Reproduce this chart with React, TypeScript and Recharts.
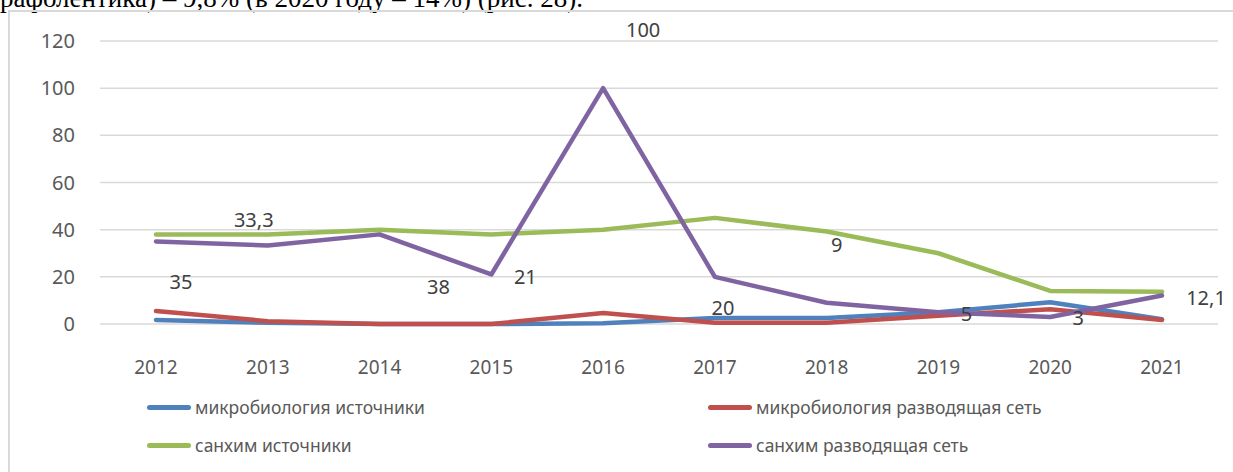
import React from "react";
import {
  LineChart,
  Line,
  XAxis,
  YAxis,
  CartesianGrid,
  Legend,
  LabelList,
} from "recharts";

const years = ["2012", "2013", "2014", "2015", "2016", "2017", "2018", "2019", "2020", "2021"];
const microSources = [1.7, 0.5, 0, 0, 0.3, 2.5, 2.5, 5, 9.2, 2];
const microNetwork = [5.5, 1.2, 0, 0, 4.7, 0.5, 0.5, 3.5, 6.3, 1.7];
const chemSources = [38, 38, 40, 38, 40, 45, 39.2, 30, 14, 13.7];
const chemNetwork = [35, 33.3, 38, 21, 100, 20, 9, 5, 3, 12.1];
const yTicks = [0, 20, 40, 60, 80, 100, 120];

const series = [
  { key: "microSources", name: "микробиология источники", color: "#4f81bd" },
  { key: "microNetwork", name: "микробиология разводящая сеть", color: "#c0504d" },
  { key: "chemSources", name: "санхим источники", color: "#9bbb59" },
  { key: "chemNetwork", name: "санхим разводящая сеть", color: "#8064a2" },
];

// hand-placed label offsets (dx, dy) from each point of the purple line
const labelShift: [number, number][] = [
  [25, 40],
  [-14, -26],
  [59, 52],
  [34, 2],
  [40, -59],
  [8, 31],
  [10, -58],
  [28, 1],
  [28, 1],
  [44, 2],
];

const data = years.map((year, i) => ({
  year,
  microSources: microSources[i],
  microNetwork: microNetwork[i],
  chemSources: chemSources[i],
  chemNetwork: chemNetwork[i],
}));

const FONT = "'Noto Sans', sans-serif";

const PointLabel = (props: any) => {
  const { x, y, value, index } = props;
  const [dx, dy] = labelShift[index] || [0, 0];
  return (
    <text
      x={x + dx}
      y={y + dy}
      textAnchor="middle"
      dominantBaseline="central"
      fill="#404040"
      fontSize={20}
      fontFamily={FONT}
    >
      {String(value).replace(".", ",")}
    </text>
  );
};

const LegendBox = () => {
  const cols = [147, 708];
  const rows = [22, 60];
  return (
    <div style={{ position: "relative", width: 1233, height: 80 }}>
      {series.map((s, i) => (
        <div
          key={s.key}
          style={{
            position: "absolute",
            left: cols[i % 2],
            top: rows[Math.floor(i / 2)] - 14,
            height: 28,
            display: "flex",
            alignItems: "center",
            whiteSpace: "nowrap",
          }}
        >
          <span
            style={{
              display: "inline-block",
              width: 44,
              height: 5,
              borderRadius: 3,
              background: s.color,
              marginRight: 4,
            }}
          />
          <span style={{ fontFamily: FONT, fontSize: 17.5, color: "#595959" }}>{s.name}</span>
        </div>
      ))}
    </div>
  );
};

export default function App() {
  return (
    <div style={{ position: "absolute", left: 0, top: 0, width: 1233, height: 472, overflow: "hidden", background: "#fff" }}>
      <div
        style={{
          position: "absolute",
          left: 0,
          top: -16,
          fontFamily: "'Liberation Serif', serif",
          fontSize: 27,
          lineHeight: "28px",
          whiteSpace: "nowrap",
          color: "#000",
        }}
      >
        рафолентика) – 9,8% (в 2020 году – 14%) (рис. 28).
      </div>
      <div
        style={{
          position: "absolute",
          left: 8,
          top: 10,
          width: 1233,
          height: 472,
          borderLeft: "2px solid #d9d9d9",
          borderTop: "2px solid #d9d9d9",
        }}
      />
      <div style={{ position: "absolute", left: 0, top: 0 }}>
        <LineChart
          width={1233}
          height={472}
          data={data}
          margin={{ top: 41, right: 15, left: 40, bottom: 38 }}
        >
          <CartesianGrid vertical={false} stroke="#d9d9d9" strokeWidth={1.5} />
          <XAxis
            dataKey="year"
            height={30}
            axisLine={false}
            tickLine={false}
            tickMargin={31}
            padding={{ left: 56, right: 56 }}
            tick={{ fill: "#595959", fontSize: 19, fontFamily: FONT }}
            interval={0}
          />
          <YAxis
            width={60}
            domain={[0, 120]}
            ticks={yTicks}
            axisLine={false}
            tickLine={false}
            tickMargin={19}
            tick={{ fill: "#595959", fontSize: 20, fontFamily: FONT }}
          />
          <Legend
            content={<LegendBox />}
            wrapperStyle={{ position: "absolute", top: 385, left: 0, width: 1233 }}
          />
          {series.map((s) => (
            <Line
              key={s.key}
              dataKey={s.key}
              name={s.name}
              stroke={s.color}
              strokeWidth={4.5}
              strokeLinecap="round"
              strokeLinejoin="round"
              dot={false}
              activeDot={false}
              isAnimationActive={false}
            >
              {s.key === "chemNetwork" && <LabelList dataKey="chemNetwork" content={<PointLabel />} />}
            </Line>
          ))}
        </LineChart>
      </div>
    </div>
  );
}
